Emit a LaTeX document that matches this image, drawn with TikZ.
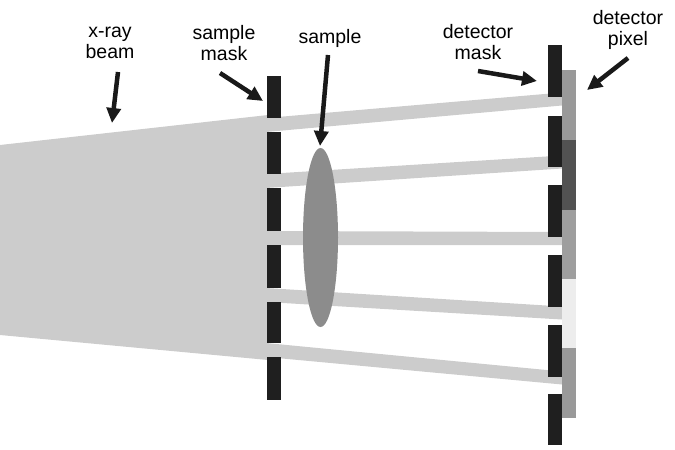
\documentclass[tikz,border=0pt]{standalone}
\usepackage{fontspec}
\setmainfont{Liberation Sans}
\usetikzlibrary{arrows.meta,shapes.geometric}
\begin{document}
\begin{tikzpicture}[x=1pt,y=-1pt,
  lbl/.style={align=center,font=\fontsize{19.5}{21}\selectfont,inner sep=0pt},
  ptr/.style={line width=4.5pt,-{Triangle[length=15pt,width=14pt]},black!90},
  mk/.style={fill=black!88,draw=none}]
\useasboundingbox (0,0) rectangle (675,450);
% main beam
\fill[black!20] (0,145) -- (268,115) -- (268,360) -- (0,335) -- cycle;
% beamlets
\foreach \a/\b in {125/99,181/162,238/238.5,295/313,350/378}{
  \fill[black!20] (266,\a-7) -- (562,\b-6.5) -- (562,\b+6.5) -- (266,\a+7) -- cycle;}
% sample
\node[ellipse,fill=black!45,minimum width=35pt,minimum height=179pt,inner sep=0pt] (smp) at (320.5,237.5) {};
% sample mask
\foreach \t/\u in {76/118,132/174,188/231,245/288,302/343,357/400}{
  \fill[mk] (267,\t) rectangle (281,\u);}
% detector mask
\foreach \t/\u in {45/97,116/167,185/237,255/307,325/377,394/445}{
  \fill[mk] (548,\t) rectangle (562,\u);}
% detector pixels
\fill[black!40] (562,70) rectangle (576,140);
\fill[black!68] (562,140) rectangle (576,210);
\fill[black!38] (562,210) rectangle (576,279);
\fill[black!7] (562,279) rectangle (576,348);
\fill[black!40] (562,348) rectangle (576,418);
% labels
\node[lbl] (lb1) at (110,43) {x-ray\\beam};
\node[lbl] (lb2) at (224,43) {sample\\mask};
\node[lbl] (lb3) at (330,38) {sample};
\node[lbl] (lb4) at (478,42) {detector\\mask};
\node[lbl] (lb5) at (628,30) {detector\\pixel};
\coordinate (e1) at (112,123);
\coordinate (e2) at (263,101);
\coordinate (e3) at (320,146);
\coordinate (e4) at (537,81);
\coordinate (e5) at (587,90);
\draw[ptr] (118,72) -- (e1);
\draw[ptr] (220,73) -- (e2);
\draw[ptr] (328,55) -- (e3);
\draw[ptr] (478,71) -- (e4);
\draw[ptr] (628,58) -- (e5);
\end{tikzpicture}
\end{document}
